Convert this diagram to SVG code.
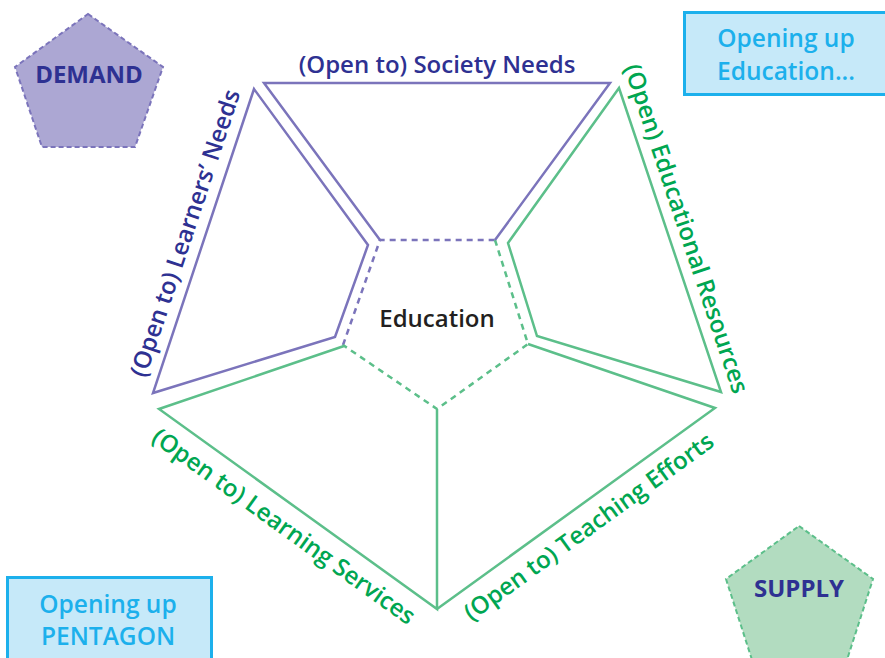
<svg xmlns="http://www.w3.org/2000/svg" width="885" height="658" viewBox="0 0 885 658">
  <style>
    text { font-family: "Open Sans", "Noto Sans", "Liberation Sans", sans-serif; font-weight: 600; }
    .purple { fill: none; stroke: #7b74bb; stroke-width: 2.5; stroke-linejoin: miter; }
    .green { fill: none; stroke: #5cbf8a; stroke-width: 2.5; stroke-linejoin: miter; }
    .dash-p { fill: none; stroke: #7b74bb; stroke-width: 2.5; stroke-dasharray: 6 5; }
    .dash-g { fill: none; stroke: #5cbf8a; stroke-width: 2.5; stroke-dasharray: 6 5; }
    .lbl-blue { fill: #2e3192; font-size: 24px; text-anchor: middle; }
    .lbl-green { fill: #00a651; font-size: 24px; text-anchor: middle; }
    .box { fill: #c6e9f9; stroke: #1cb0ec; stroke-width: 3; }
    .box-text { fill: #1cb0ec; font-size: 24.5px; text-anchor: middle; }
    .tag { fill: #2e3192; font-size: 24px; font-weight: 700; text-anchor: middle; }
  </style>

  <!-- Central pentagon: Education -->
  <g id="education">
    <text x="437" y="327" text-anchor="middle" font-size="24" font-weight="700" fill="#231f20">Education</text>
  </g>

  <!-- Dashed boundary of the central pentagon -->
  <g id="connectors">
    <polyline class="dash-p" points="343,345 380,240 495,240"/>
    <polyline class="dash-g" points="495,240 528,344 437,409 343,345"/>
  </g>

  <!-- Society Needs -->
  <g id="society-needs">
    <polyline class="purple" points="380,240 264,83 610,83 495,240"/>
    <text class="lbl-blue" x="437" y="73">(Open to) Society Needs</text>
  </g>

  <!-- Learners' Needs -->
  <g id="learners-needs">
    <polygon class="purple" points="254,89 153,393 335,337 368,245"/>
    <text class="lbl-blue" transform="translate(193,235.8) rotate(-71.6)">(Open to) Learners’ Needs</text>
  </g>

  <!-- Educational Resources -->
  <g id="educational-resources">
    <polygon class="green" points="619,88 721,392 537,336 508,243"/>
    <text class="lbl-green" transform="translate(678.5,231.3) rotate(71.5)">(Open) Educational Resources</text>
  </g>

  <!-- Learning Services -->
  <g id="learning-services">
    <polyline class="green" points="344,346 159,409 437,609 437,410"/>
    <text class="lbl-green" transform="translate(279,533) rotate(35.7)">(Open to) Learning Services</text>
  </g>

  <!-- Teaching Efforts -->
  <g id="teaching-efforts">
    <polyline class="green" points="528,344 715,408 437,609"/>
    <text class="lbl-green" transform="translate(593.6,533.4) rotate(-35.9)">(Open to) Teaching Efforts</text>
  </g>

  <!-- Demand pentagon -->
  <g id="demand">
    <polygon points="88,14 163,67 135,147 42,147 15,67" fill="#aca7d3" stroke="#7b74bb" stroke-width="2" stroke-dasharray="5 3"/>
    <text class="tag" x="89" y="83">DEMAND</text>
  </g>

  <!-- Supply pentagon -->
  <g id="supply">
    <polygon points="799,526 873,579 845,666 754,666 726,579" fill="#b2dcc0" stroke="#5cbf8a" stroke-width="2" stroke-dasharray="5 3"/>
    <text class="tag" x="799" y="597">SUPPLY</text>
  </g>

  <!-- Title boxes -->
  <g id="title-education">
    <rect class="box" x="684.5" y="12.5" width="205" height="82"/>
    <text class="box-text" x="786" y="47">Opening up</text>
    <text class="box-text" x="786" y="80">Education...</text>
  </g>
  <g id="title-pentagon">
    <rect class="box" x="7.5" y="577.5" width="204" height="90"/>
    <text class="box-text" x="108" y="613">Opening up</text>
    <text class="box-text" x="108" y="645">PENTAGON</text>
  </g>
</svg>
